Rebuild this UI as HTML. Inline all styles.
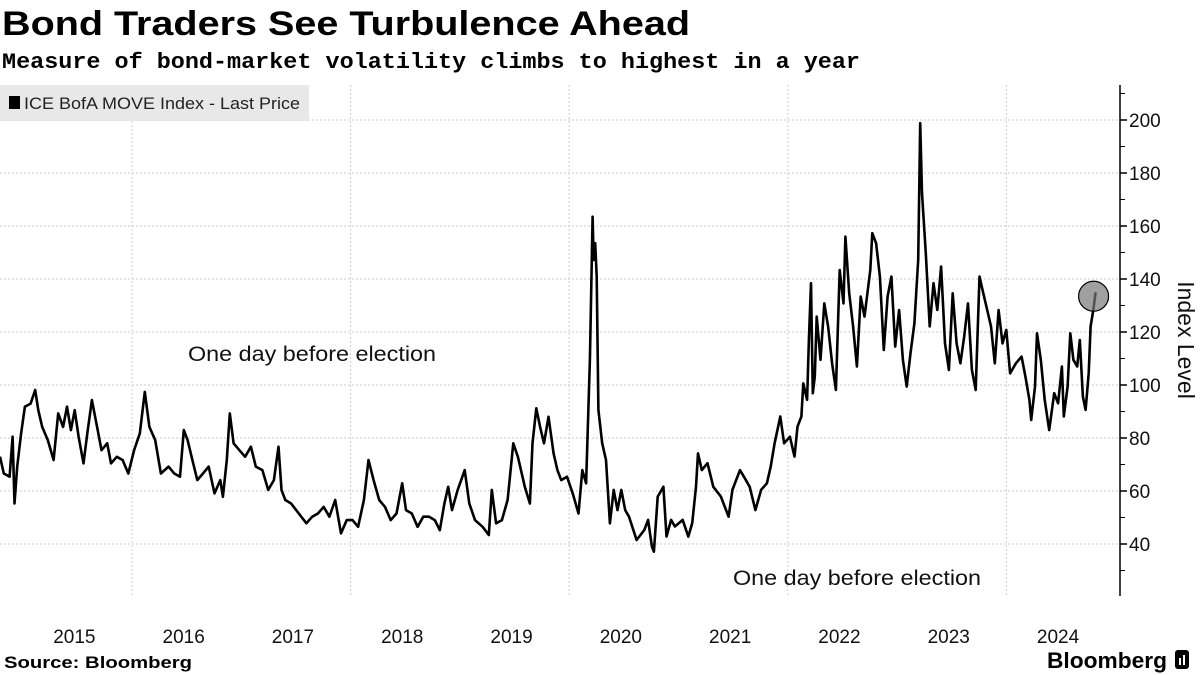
<!DOCTYPE html>
<html><head><meta charset="utf-8"><style>
body{margin:0;background:#fff;}
svg{display:block;font-family:"Liberation Sans",sans-serif;}
</style></head><body>
<svg id="chart" width="1200" height="675" viewBox="0 0 1200 675">
<text x="2" y="35" font-size="34" font-weight="bold" textLength="688" lengthAdjust="spacingAndGlyphs">Bond Traders See Turbulence Ahead</text>
<text x="2" y="68" font-size="22" font-weight="bold" font-family="Liberation Mono, monospace" textLength="858" lengthAdjust="spacingAndGlyphs">Measure of bond-market volatility climbs to highest in a year</text>
<g id="grid"></g>
<g>
<rect x="0" y="85" width="309" height="36" fill="#e8e8e8"/>
<rect x="9" y="96" width="11" height="13" fill="#000"/>
<text x="24" y="109" font-size="17" fill="#222" textLength="276" lengthAdjust="spacingAndGlyphs">ICE BofA MOVE Index - Last Price</text>
</g>
<text x="188" y="361" font-size="21" fill="#111" textLength="248" lengthAdjust="spacingAndGlyphs">One day before election</text>
<text x="733" y="585" font-size="21" fill="#111" textLength="248" lengthAdjust="spacingAndGlyphs">One day before election</text>
<g id="series"></g>
<g id="axis"></g>
<text transform="translate(1178,340) rotate(90)" text-anchor="middle" font-size="23" fill="#111">Index Level</text>
<text x="4" y="668" font-size="17" font-weight="bold" textLength="188" lengthAdjust="spacingAndGlyphs">Source: Bloomberg</text>
<g>
<text x="1047" y="668" font-size="22" font-weight="bold" textLength="120" lengthAdjust="spacingAndGlyphs">Bloomberg</text>
<rect x="1175" y="650" width="14" height="19" rx="3" fill="#000"/>
<rect x="1179" y="658" width="2" height="7" fill="#fff"/><rect x="1183" y="655" width="2" height="10" fill="#fff"/>
</g>
</svg>
<script>
const dates=[2014.792,2014.827,2014.880,2014.908,2014.925,2014.950,2014.985,2015.020,2015.072,2015.114,2015.143,2015.178,2015.230,2015.283,2015.325,2015.370,2015.405,2015.441,2015.476,2015.511,2015.556,2015.591,2015.633,2015.686,2015.721,2015.773,2015.808,2015.861,2015.914,2015.966,2016.019,2016.071,2016.117,2016.159,2016.212,2016.264,2016.334,2016.387,2016.439,2016.474,2016.509,2016.545,2016.597,2016.650,2016.702,2016.755,2016.808,2016.832,2016.867,2016.895,2016.930,2016.983,2017.035,2017.088,2017.133,2017.193,2017.246,2017.298,2017.340,2017.368,2017.403,2017.456,2017.526,2017.596,2017.649,2017.701,2017.754,2017.806,2017.859,2017.912,2017.964,2018.017,2018.069,2018.122,2018.164,2018.210,2018.262,2018.315,2018.367,2018.420,2018.472,2018.507,2018.560,2018.613,2018.665,2018.718,2018.770,2018.816,2018.858,2018.893,2018.928,2018.980,2019.044,2019.086,2019.138,2019.208,2019.264,2019.292,2019.331,2019.384,2019.436,2019.489,2019.531,2019.594,2019.640,2019.664,2019.699,2019.734,2019.769,2019.811,2019.857,2019.892,2019.927,2019.980,2020.032,2020.085,2020.120,2020.155,
2020.189,2020.214,2020.224,2020.238,2020.252,2020.267,2020.302,2020.337,2020.372,2020.407,2020.442,2020.477,2020.512,2020.547,2020.617,2020.687,2020.722,2020.757,2020.775,2020.810,2020.862,2020.890,2020.932,2020.967,2021.038,2021.090,2021.125,2021.160,2021.178,2021.213,2021.265,2021.318,2021.388,2021.458,2021.493,2021.563,2021.598,2021.651,2021.704,2021.756,2021.809,2021.844,2021.879,2021.931,2021.966,2022.019,2022.061,2022.089,2022.124,2022.142,2022.177,2022.194,2022.212,2022.229,2022.247,2022.264,2022.299,2022.334,2022.369,2022.405,2022.440,2022.475,2022.510,2022.527,2022.562,2022.597,2022.632,2022.667,2022.702,2022.755,2022.773,2022.808,2022.843,2022.878,2022.913,2022.948,2022.983,2023.018,2023.053,2023.088,2023.123,2023.158,2023.193,2023.211,2023.228,2023.263,2023.298,2023.333,2023.368,2023.403,2023.438,2023.474,2023.509,2023.544,2023.579,2023.614,2023.649,2023.684,2023.719,2023.754,2023.789,2023.824,2023.859,2023.894,2023.929,2023.964,2023.999,2024.034,2024.087,2024.139,2024.174,2024.210,2024.227,2024.262,2024.280,2024.315,2024.350,2024.392,2024.437,2024.473,2024.508,2024.525,2024.560,2024.585,2024.613,2024.648,2024.672,2024.700,2024.725,2024.753,2024.770,2024.795,2024.816];
const values=[73,66.6,65.4,80.5,55.3,69.2,81.7,91.8,93,98.1,90.5,84.2,79.2,71.7,89.3,84.2,91.8,83,90.5,80.5,70.4,81.7,94.3,83,75.4,78,70.4,72.9,71.7,66.6,75.4,81.7,97.4,84.2,79.2,66.6,69.2,66.6,65.4,83,79.2,72.9,64.1,66.6,69.2,59.1,64.1,57.8,71.7,89.3,78,75.4,72.9,76.7,69.2,67.9,60.4,64.1,76.7,60.4,56.6,55.3,51.5,47.8,50.3,51.5,54,50.3,56.6,44,49,49,46.5,56.6,71.7,64.1,56.6,54,49,51.5,62.9,52.8,51.5,46.5,50.3,50.3,49,45.2,55.3,61.6,52.8,60.4,67.9,55.3,49,46.5,43.4,60.4,47.8,49,56.6,78,72.9,61.6,55.3,78,91.2,84.2,78,88,74.2,67.9,64.1,65.4,59.1,51.5,67.9,62.9,
109.5,163.5,147.2,153.5,140.9,90.6,78,71.7,47.8,60.4,52.8,60.4,52.8,50.3,41.5,45.3,49.1,39,37.1,57.9,61.6,42.8,49.1,46.6,49.1,42.8,47.8,61.6,74.2,67.9,70.5,61.6,57.9,50.3,60.4,67.9,65.4,61.6,52.8,60.4,62.9,69.2,78,88.1,78,80.5,73,84.3,88.1,100.6,94.4,118.3,138.4,96.9,103.2,125.8,109.5,130.8,122.1,108.2,98.1,143.4,130.8,156,134.6,122.1,107,133.4,125.8,143.4,157.3,153.5,140.9,113.2,133.4,140.9,114.5,128.3,109.5,99.4,112,123.3,147.2,198.8,172.4,149.7,122.1,138.4,128.3,144.7,115.7,105.7,134.6,115.7,108.2,118.3,130.8,105.7,98.1,140.9,134.6,128.3,122.1,108.2,128.3,115.7,120.8,104.4,108.2,110.7,103.2,94.4,86.8,99.4,119.5,109.5,94.4,83,96.9,93.1,107,88.1,99.4,119.5,109.5,107,117,95.6,90.6,104.4,122.1,128.3,135];
const yTicks=[40,60,80,100,120,140,160,180,200];
const yMinor=[30,50,70,90,110,130,150,170,190,210];
const xYears=[2015,2016,2017,2018,2019,2020,2021,2022,2023,2024];
const gridYears=[2016,2018,2020,2022,2024];

const NS='http://www.w3.org/2000/svg';
function X(t){return 132+(t-2016)*109.3;}
function Y(v){return 544-(v-40)*2.65;}
function mk(tag,attrs,parent){const e=document.createElementNS(NS,tag);for(const k in attrs)e.setAttribute(k,attrs[k]);parent.appendChild(e);return e;}
const grid=document.getElementById('grid'),axis=document.getElementById('axis'),series=document.getElementById('series');
yTicks.forEach(v=>{
  const l=mk('line',{x1:0,x2:1120,y1:Y(v),y2:Y(v),stroke:'#c8c8c8','stroke-width':1,'stroke-dasharray':'2,2'},grid);
  
  
  const tk=mk('line',{x1:1120,x2:1127,y1:Y(v),y2:Y(v),stroke:'#000','stroke-width':1.5},axis);
  
  
  const t=mk('text',{x:1129,y:Y(v)+7,'font-size':19,fill:'#111'},axis);
  t.textContent=v;
  
  
});
yMinor.forEach(v=>{
  const tk=mk('line',{x1:1120,x2:1125,y1:Y(v),y2:Y(v),stroke:'#000','stroke-width':1},axis);
  
  
});
gridYears.forEach(yr=>{
  const l=mk('line',{x1:X(yr),x2:X(yr),y1:85,y2:596,stroke:'#d0d0d0','stroke-width':1,'stroke-dasharray':'2,2'},grid);
  
  
});
xYears.forEach(yr=>{
  const t=mk('text',{x:X(yr+0.5)-3,y:643,'font-size':19,fill:'#111','text-anchor':'middle'},axis);
  t.textContent=yr;
  
  
});
const ax=mk('line',{x1:1120,x2:1120,y1:85,y2:596,stroke:'#000','stroke-width':1.5},axis);


let d='';
dates.forEach((t,i)=>{d+=(i?'L':'M')+X(t).toFixed(1)+','+Y(values[i]).toFixed(1);});
const p=mk('path',{d:d,fill:'none',stroke:'#000','stroke-width':2.6,'stroke-linejoin':'round'},series);


const n=dates.length-1;
const c=mk('circle',{cx:X(dates[n])-2,cy:Y(values[n])+4,r:15,fill:'rgba(120,120,120,0.7)',stroke:'#000','stroke-width':1.2},series);


</script>
</body></html>
